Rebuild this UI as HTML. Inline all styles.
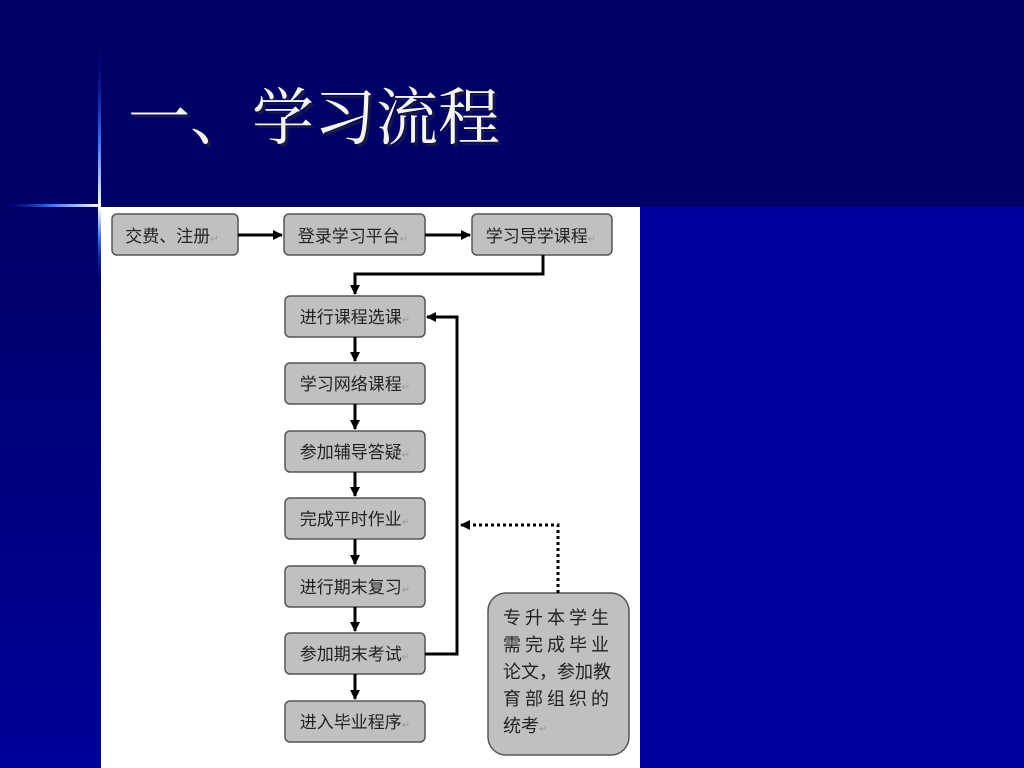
<!DOCTYPE html>
<html><head><meta charset="utf-8"><style>
html,body{margin:0;padding:0;width:1024px;height:768px;overflow:hidden;background:#00009c;}
svg{display:block}
</style></head><body>
<svg width="1024" height="768" xmlns="http://www.w3.org/2000/svg">
<defs>
<linearGradient id="lg" x1="0" y1="0" x2="0" y2="1"><stop offset="0" stop-color="#000068"/><stop offset="1" stop-color="#00009a"/></linearGradient>
<linearGradient id="hl" x1="0" y1="0" x2="1" y2="0"><stop offset="0" stop-color="#000080" stop-opacity="0"/><stop offset="0.5" stop-color="#3070ff"/><stop offset="1" stop-color="#ffffff"/></linearGradient>
<linearGradient id="vl" x1="0" y1="0" x2="0" y2="1"><stop offset="0" stop-color="#000080" stop-opacity="0"/><stop offset="0.6" stop-color="#3070ff"/><stop offset="1" stop-color="#ffffff"/></linearGradient>
<linearGradient id="vl2" x1="0" y1="0" x2="0" y2="1"><stop offset="0" stop-color="#ffffff"/><stop offset="0.4" stop-color="#3070ff"/><stop offset="1" stop-color="#000080" stop-opacity="0"/></linearGradient>
<marker id="ar" markerWidth="10" markerHeight="10" refX="9" refY="5" orient="auto" markerUnits="userSpaceOnUse"><path d="M0,0 L10,5 L0,10 z" fill="#000"/></marker>
</defs>
<rect x="0" y="0" width="1024" height="207" fill="#000066"/>
<rect x="0" y="207" width="101" height="561" fill="url(#lg)"/>
<rect x="0" y="204" width="100" height="3" fill="url(#hl)"/>
<rect x="98" y="40" width="3" height="167" fill="url(#vl)"/>
<rect x="98" y="207" width="3" height="80" fill="url(#vl2)"/>
<text x="131" y="142" font-family="'Liberation Serif','Noto Serif CJK SC',serif" font-size="62" fill="#1a1a40" >一、学习流程</text>
<text x="128" y="139" font-family="'Liberation Serif','Noto Serif CJK SC',serif" font-size="62" fill="#f4f4f4">一、学习流程</text>
<rect x="101" y="207" width="539" height="561" fill="#fff"/>
<g fill="#c0c0c0" stroke="#555" stroke-width="1.5">
<rect x="112" y="214" width="126" height="41" rx="5"/>
<rect x="284" y="214" width="141" height="41" rx="5"/>
<rect x="472" y="214" width="140" height="41" rx="5"/>
<rect x="285" y="296" width="140" height="41" rx="5"/>
<rect x="285" y="363" width="140" height="41" rx="5"/>
<rect x="285" y="431" width="140" height="41" rx="5"/>
<rect x="285" y="498" width="140" height="41" rx="5"/>
<rect x="285" y="566" width="140" height="41" rx="5"/>
<rect x="285" y="633" width="140" height="41" rx="5"/>
<rect x="285" y="701" width="140" height="41" rx="5"/>
<rect x="488" y="593" width="141" height="162" rx="18"/>
</g>
<g stroke="#000" stroke-width="3" fill="none">
<line x1="238" y1="235" x2="282" y2="235" marker-end="url(#ar)"/>
<line x1="425" y1="235" x2="470" y2="235" marker-end="url(#ar)"/>
<polyline points="543,255 543,274 355,274 355,294" marker-end="url(#ar)"/>
<line x1="355" y1="337" x2="355" y2="361" marker-end="url(#ar)"/>
<line x1="355" y1="404" x2="355" y2="429" marker-end="url(#ar)"/>
<line x1="355" y1="472" x2="355" y2="496" marker-end="url(#ar)"/>
<line x1="355" y1="539" x2="355" y2="564" marker-end="url(#ar)"/>
<line x1="355" y1="607" x2="355" y2="631" marker-end="url(#ar)"/>
<line x1="355" y1="674" x2="355" y2="699" marker-end="url(#ar)"/>
<polyline points="425,654 457,654 457,317 427,317" marker-end="url(#ar)"/>
<polyline points="558,593 558,525 461,525" stroke-dasharray="3,3" marker-end="url(#ar)"/>
</g>
<g font-family="'Liberation Sans','Noto Sans CJK SC',sans-serif" font-size="17" fill="#222" text-anchor="middle">
<text x="172" y="242">交费、注册<tspan fill="#999" font-size="10">↵</tspan></text>
<text x="353" y="242">登录学习平台<tspan fill="#999" font-size="10">↵</tspan></text>
<text x="541" y="242">学习导学课程<tspan fill="#999" font-size="10">↵</tspan></text>
<text x="355" y="323">进行课程选课<tspan fill="#999" font-size="10">↵</tspan></text>
<text x="355" y="390">学习网络课程<tspan fill="#999" font-size="10">↵</tspan></text>
<text x="355" y="458">参加辅导答疑<tspan fill="#999" font-size="10">↵</tspan></text>
<text x="355" y="525">完成平时作业<tspan fill="#999" font-size="10">↵</tspan></text>
<text x="355" y="593">进行期末复习<tspan fill="#999" font-size="10">↵</tspan></text>
<text x="355" y="660">参加期末考试<tspan fill="#999" font-size="10">↵</tspan></text>
<text x="355" y="728">进入毕业程序<tspan fill="#999" font-size="10">↵</tspan></text>
</g>
<g font-family="'Liberation Sans','Noto Sans CJK SC',sans-serif" font-size="18" fill="#222">
<text x="503" y="624" letter-spacing="4">专升本学生</text>
<text x="503" y="651" letter-spacing="4">需完成毕业</text>
<text x="503" y="678" letter-spacing="0">论文，参加教</text>
<text x="503" y="705" letter-spacing="4">育部组织的</text>
<text x="503" y="732" letter-spacing="0">统考<tspan fill="#999" font-size="10">↵</tspan></text>
</g>
</svg>
</body></html>
